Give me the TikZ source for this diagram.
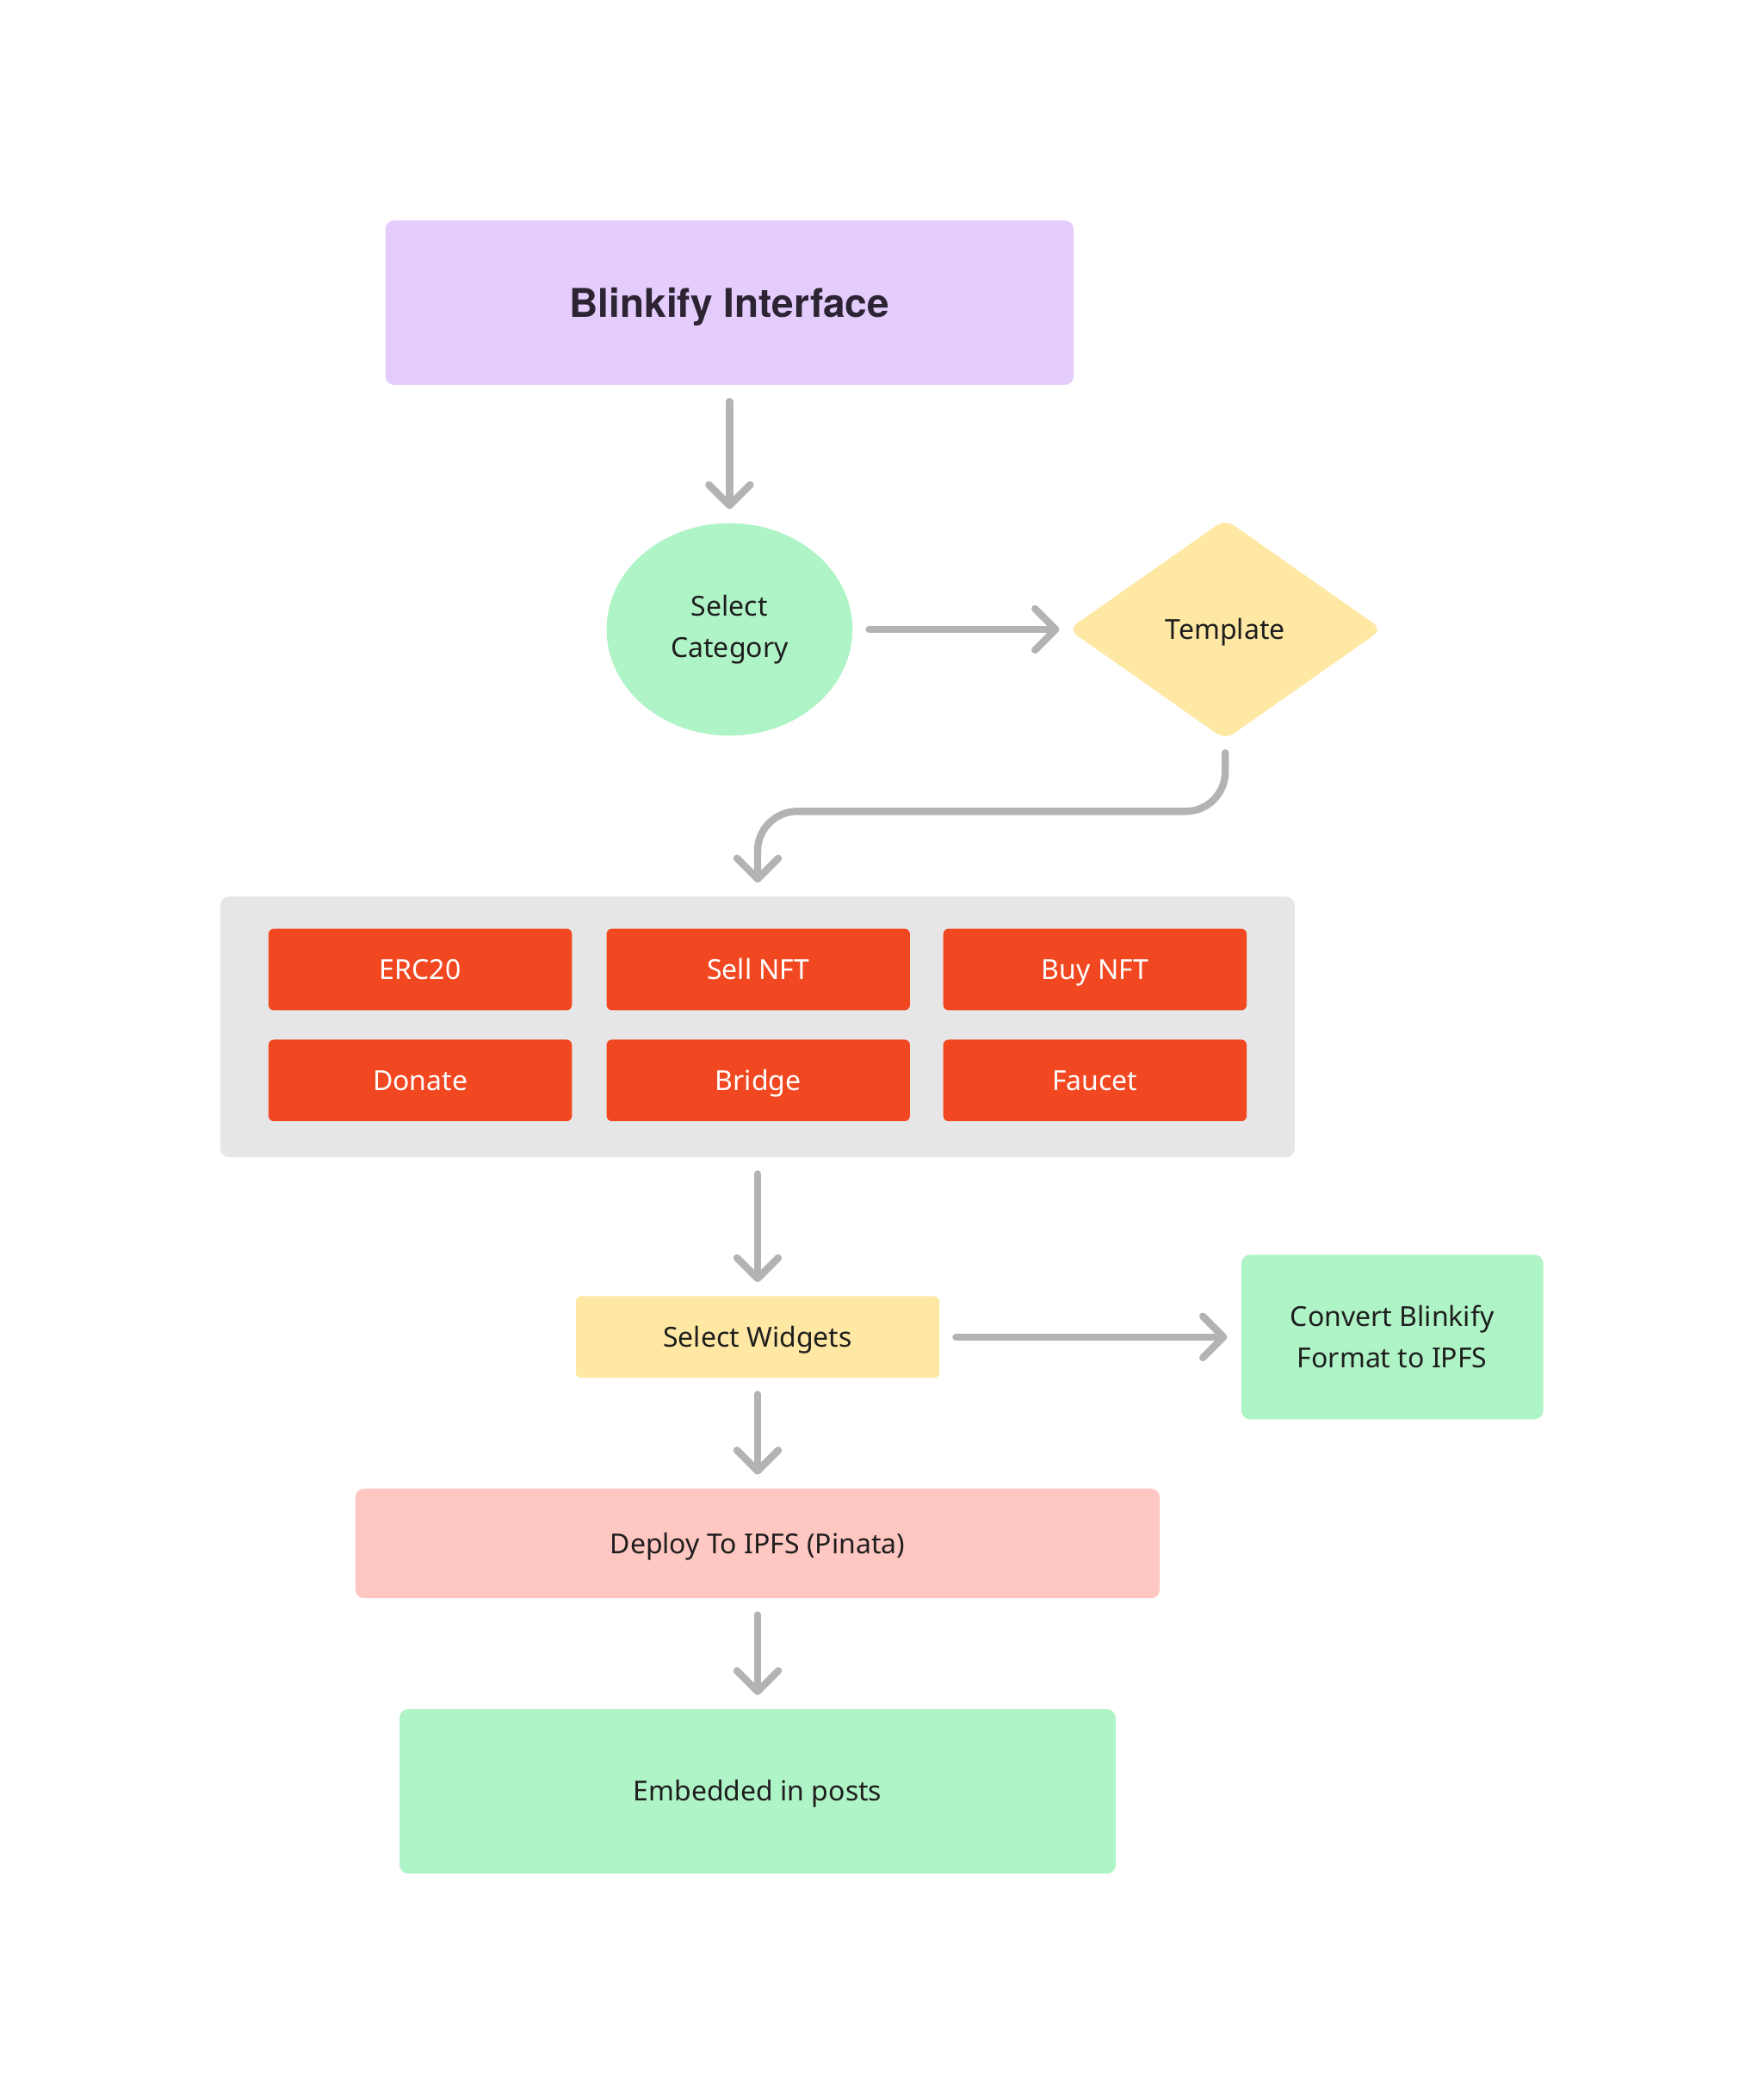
\documentclass[tikz,border=0pt]{standalone}
\usepackage{fontspec}
\setmainfont{Noto Sans}
\newfontfamily\titlefont{TeX Gyre Heros}
\usetikzlibrary{shapes.geometric,arrows.meta}
\newlength\dpx \setlength\dpx{0.776pt}
\definecolor{cpurple}{HTML}{E4CCFD}
\definecolor{cgreen}{HTML}{AFF4C6}
\definecolor{cyellow}{HTML}{FFE8A3}
\definecolor{cred}{HTML}{F24822}
\definecolor{cgray}{HTML}{E6E6E6}
\definecolor{cpink}{HTML}{FFC7C2}
\definecolor{carrow}{HTML}{B3B3B3}
\definecolor{ctext}{HTML}{1E1E1E}
\definecolor{ctitle}{HTML}{2C2433}
\begin{document}
\begin{tikzpicture}[x=0.776pt,y=-0.776pt,
  lbl/.style={text=ctext, font=\fontsize{16}{24}\selectfont, align=center},
  oneline/.style={text height=11.5pt, text depth=0pt},
  box/.style={rectangle, rounded corners=5pt, inner sep=0pt, lbl},
  redbox/.style={box, oneline, fill=cred, text=white, minimum width=227*\dpx, minimum height=61*\dpx, rounded corners=3pt},
  conn/.style={draw=carrow, line width=4.2pt, line cap=round, line join=round,
    -{Straight Barb[length=12pt,width=24pt,round]}, shorten <=9.5pt, shorten >=8pt}]
\useasboundingbox (0,0) rectangle (1319.6,1567);
\fill[white] (0,0) rectangle (1319.6,1567);

\node[box, fill=cpurple, minimum width=515*\dpx, minimum height=123*\dpx,
  font=\titlefont\fontsize{23}{27}\selectfont\bfseries, text=ctitle,
  text height=16.5pt, text depth=0pt] (title) at (546,226.5) {Blinkify Interface};

\node[ellipse, fill=cgreen, minimum width=184*\dpx, minimum height=159*\dpx, inner sep=0pt, lbl]
  (cat) at (546,471) {Select\\Category};

\node[diamond, fill=cyellow, minimum width=235*\dpx, minimum height=165*\dpx, aspect=1.43,
  inner sep=0pt, rounded corners=6pt, lbl, oneline] (tmpl) at (917,471) {Template};

\node[box, fill=cgray, minimum width=804*\dpx, minimum height=195*\dpx]
  (panel) at (567,768.5) {};

\node[redbox] (erc) at (314.5,725.5) {ERC20};
\node[redbox] (sell) at (567.5,725.5) {Sell NFT};
\node[redbox] (buy) at (819.5,725.5) {Buy NFT};
\node[redbox] (donate) at (314.5,808.5) {Donate};
\node[redbox] (bridge) at (567.5,808.5) {Bridge};
\node[redbox] (faucet) at (819.5,808.5) {Faucet};

\node[box, oneline, fill=cyellow, minimum width=272*\dpx, minimum height=61*\dpx, rounded corners=3pt]
  (widgets) at (567,1000.5) {Select Widgets};

\node[box, fill=cgreen, minimum width=226*\dpx, minimum height=123*\dpx]
  (convert) at (1042,1000.5) {Convert Blinkify\\Format to IPFS};

\node[box, oneline, fill=cpink, minimum width=602*\dpx, minimum height=82*\dpx]
  (deploy) at (567,1155) {Deploy To IPFS (Pinata)};

\node[box, oneline, fill=cgreen, minimum width=536*\dpx, minimum height=123*\dpx]
  (embed) at (567,1340.5) {Embedded in posts};

\draw[conn] (title.south) -- (cat.north);
\draw[conn] ([yshift=0pt]cat.east) -- ([xshift=3pt]tmpl.west);
\draw[conn, rounded corners=23pt] ([yshift=2pt]tmpl.south) -- ++(0,56) -| (panel.north);
\draw[conn] (panel.south) -- (widgets.north);
\draw[conn] (widgets.east) -- (convert.west);
\draw[conn] (widgets.south) -- (deploy.north);
\draw[conn] (deploy.south) -- (embed.north);
\end{tikzpicture}
\end{document}
